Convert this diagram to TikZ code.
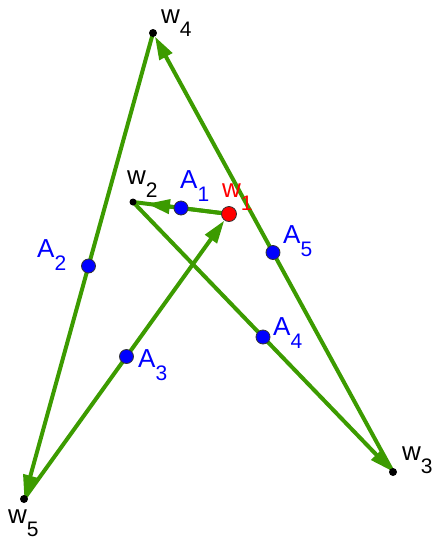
\documentclass[tikz,border=0pt]{standalone}
\usepackage{fontspec}
\setmainfont{Liberation Sans}
\usetikzlibrary{arrows.meta,calc}
\definecolor{seggreen}{RGB}{60,155,0}
\definecolor{ptblue}{RGB}{0,0,255}
\definecolor{ptred}{RGB}{255,0,0}
\newcommand{\lab}[2]{#1\raisebox{-13pt}{\fontsize{21}{21}\selectfont #2}}
\begin{document}
\begin{tikzpicture}[x=1pt,y=-1pt,
  seg/.style={draw=seggreen,line width=4pt},
  vec/.style={draw=seggreen,line width=4pt,-{Triangle[length=23pt,width=14pt]}},
  blackpt/.style={circle,fill=black,inner sep=0pt,minimum size=8pt},
  bluept/.style={circle,fill=ptblue,draw=black!80,line width=0.8pt,inner sep=0pt,minimum size=14pt},
  redpt/.style={circle,fill=ptred,draw=black!80,line width=0.8pt,inner sep=0pt,minimum size=15pt},
  lbl/.style={anchor=base west,inner sep=0pt,font=\fontsize{26}{26}\selectfont}]
\useasboundingbox (0,0) rectangle (434,542);
\coordinate (w1) at (229,214);
\coordinate (w2) at (133,202);
\coordinate (w3) at (393,472);
\coordinate (w4) at (153,33);
\coordinate (w5) at (24,499);
% segments
\draw[seg] (w1) -- (w2);
\draw[vec,shorten >=14pt] (w1) -- (w2);
\draw[vec,shorten >=1pt] (w2) -- (w3);
\draw[vec,shorten >=4pt] (w3) -- (w4);
\draw[vec,shorten >=1pt] (w4) -- (w5);
\draw[vec,shorten >=8pt] (w5) -- (w1);
% points
\node[blackpt] (p4) at (w4) {};
\node[blackpt,minimum size=7pt] (p2) at (w2) {};
\node[blackpt] (p3) at (w3) {};
\node[blackpt] (p5) at (w5) {};
\node[bluept] (A1) at ($(w1)!0.5!(w2)$) {};
\node[bluept] (A2) at ($(w4)!0.5!(w5)$) {};
\node[bluept] (A3) at ($(w5)!0.5!(w1)$) {};
\node[bluept] (A4) at ($(w2)!0.5!(w3)$) {};
\node[bluept] (A5) at ($(w3)!0.5!(w4)$) {};
\node[redpt] (p1) at (w1) {};
% labels
\node[lbl] (lw4) at (161,23) {\lab{w}{4}};
\node[lbl] (lw2) at (127,184) {\lab{w}{2}};
\node[lbl,text=ptred] (lw1) at (222,197) {\lab{w}{1}};
\node[lbl] (lw3) at (402,460) {\lab{w}{3}};
\node[lbl] (lw5) at (8,523) {\lab{w}{5}};
\node[lbl,text=ptblue] (lA1) at (180,188) {\lab{A}{1}};
\node[lbl,text=ptblue] (lA2) at (37,257) {\lab{A}{2}};
\node[lbl,text=ptblue] (lA3) at (138,367) {\lab{A}{3}};
\node[lbl,text=ptblue] (lA4) at (273,335) {\lab{A}{4}};
\node[lbl,text=ptblue] (lA5) at (283,243) {\lab{A}{5}};
\end{tikzpicture}
\end{document}
